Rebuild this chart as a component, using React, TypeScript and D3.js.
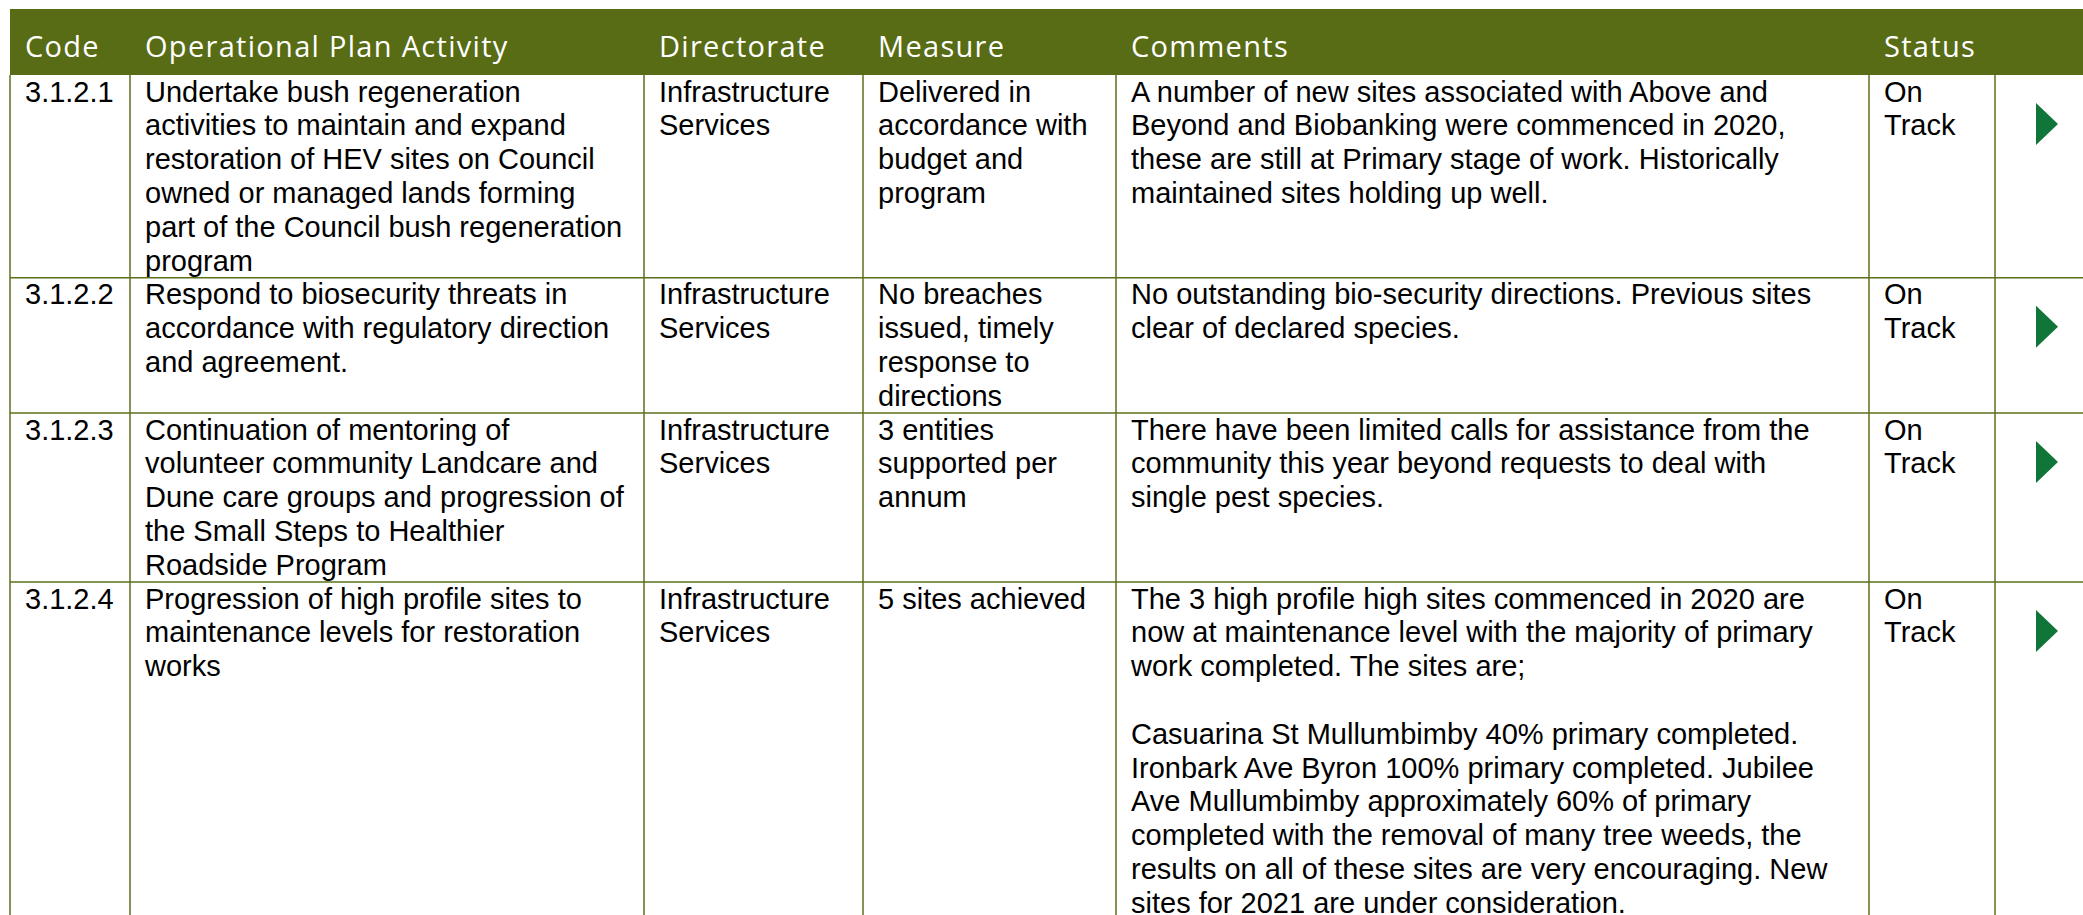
import React, { useEffect, useRef } from "react";
import * as d3 from "d3";

const headers = ["Code", "Operational Plan Activity", "Directorate", "Measure", "Comments", "Status", ""];

const codes = ["3.1.2.1", "3.1.2.2", "3.1.2.3", "3.1.2.4"];

const activities = [
  [
    "Undertake bush regeneration",
    "activities to maintain and expand",
    "restoration of HEV sites on Council",
    "owned or managed lands forming",
    "part of the Council bush regeneration",
    "program"
  ],
  ["Respond to biosecurity threats in", "accordance with regulatory direction", "and agreement."],
  [
    "Continuation of mentoring of",
    "volunteer community Landcare and",
    "Dune care groups and progression of",
    "the Small Steps to Healthier",
    "Roadside Program"
  ],
  ["Progression of high profile sites to", "maintenance levels for restoration", "works"]
];

const directorates = [
  ["Infrastructure", "Services"],
  ["Infrastructure", "Services"],
  ["Infrastructure", "Services"],
  ["Infrastructure", "Services"]
];

const measures = [
  ["Delivered in", "accordance with", "budget and", "program"],
  ["No breaches", "issued, timely", "response to", "directions"],
  ["3 entities", "supported per", "annum"],
  ["5 sites achieved"]
];

const comments = [
  [
    "A number of new sites associated with Above and",
    "Beyond and Biobanking were commenced in 2020,",
    "these are still at Primary stage of work. Historically",
    "maintained sites holding up well."
  ],
  ["No outstanding bio-security directions. Previous sites", "clear of declared species."],
  [
    "There have been limited calls for assistance from the",
    "community this year beyond requests to deal with",
    "single pest species."
  ],
  [
    "The 3 high profile high sites commenced in 2020 are",
    "now at maintenance level with the majority of primary",
    "work completed. The sites are;",
    "",
    "Casuarina St Mullumbimby 40% primary completed.",
    "Ironbark Ave Byron 100% primary completed. Jubilee",
    "Ave Mullumbimby approximately 60% of primary",
    "completed with the removal of many tree weeds, the",
    "results on all of these sites are very encouraging. New",
    "sites for 2021 are under consideration."
  ]
];

const statuses = [
  ["On", "Track"],
  ["On", "Track"],
  ["On", "Track"],
  ["On", "Track"]
];

const W = 2083;
const H = 915;
const colWidths = [120, 514, 219, 253, 753, 126, 130];
const left = 10;
const headTop = 9;
const headH = 66;
const lineH = 33.8;
const pad = 15;
const green = "#586b15";
const rule = "#5b7019";

function Table() {
  const ref = useRef(null);

  useEffect(() => {
    const svg = d3.select(ref.current);
    svg.selectAll("*").remove();

    const edges = [left, ...Array.from(d3.cumsum(colWidths), (c) => left + c)];
    const rows = codes.map((c, i) => ({
      cells: [[c], activities[i], directorates[i], measures[i], comments[i], statuses[i]]
    }));
    const lineCounts = rows.map((r) => d3.max(r.cells, (c) => c.length));
    const tops = [headTop + headH, ...Array.from(d3.cumsum(lineCounts), (n) => headTop + headH + n * lineH)];

    // header band
    svg
      .append("rect")
      .attr("x", left)
      .attr("y", headTop)
      .attr("width", W - left)
      .attr("height", headH)
      .attr("fill", green);

    svg
      .append("g")
      .selectAll("text")
      .data(headers)
      .join("text")
      .attr("x", (d, i) => edges[i] + pad)
      .attr("y", headTop + 48)
      .attr("fill", "#ffffff")
      .attr("font-family", "'Open Sans', sans-serif")
      .attr("font-size", 29)
      .attr("letter-spacing", 1.3)
      .text((d) => d);

    // grid
    const grid = svg.append("g").attr("stroke", rule).attr("stroke-width", 1.5);
    grid
      .selectAll("line.h")
      .data(tops.slice(1))
      .join("line")
      .attr("class", "h")
      .attr("x1", left)
      .attr("x2", W)
      .attr("y1", (d) => d)
      .attr("y2", (d) => d);
    grid
      .selectAll("line.v")
      .data(edges.slice(0, 7))
      .join("line")
      .attr("class", "v")
      .attr("x1", (d) => d)
      .attr("x2", (d) => d)
      .attr("y1", headTop + headH)
      .attr("y2", H + 20);

    // cell text
    const rowG = svg
      .append("g")
      .selectAll("g")
      .data(rows)
      .join("g")
      .attr("transform", (d, i) => `translate(0,${tops[i]})`);

    rowG.each(function (r) {
      const g = d3.select(this);
      r.cells.forEach((lines, ci) => {
        g.append("g")
          .selectAll("text")
          .data(lines)
          .join("text")
          .attr("x", edges[ci] + pad)
          .attr("y", (d, li) => 26.5 + li * lineH)
          .attr("fill", "#000")
          .attr("font-family", "'Liberation Sans', Arial, sans-serif")
          .attr("font-size", 29)
          .text((d) => d);
      });
      const ax = edges[6] + 41;
      g.append("path")
        .attr("d", `M${ax},28 L${ax + 22},49 L${ax},70 Z`)
        .attr("fill", "#0f7538");
    });
  }, []);

  return (
    <svg
      ref={ref}
      width={W}
      height={H}
      style={{ position: "absolute", left: 0, top: 0, background: "#fff" }}
    />
  );
}

export default function App() {
  return <Table />;
}
